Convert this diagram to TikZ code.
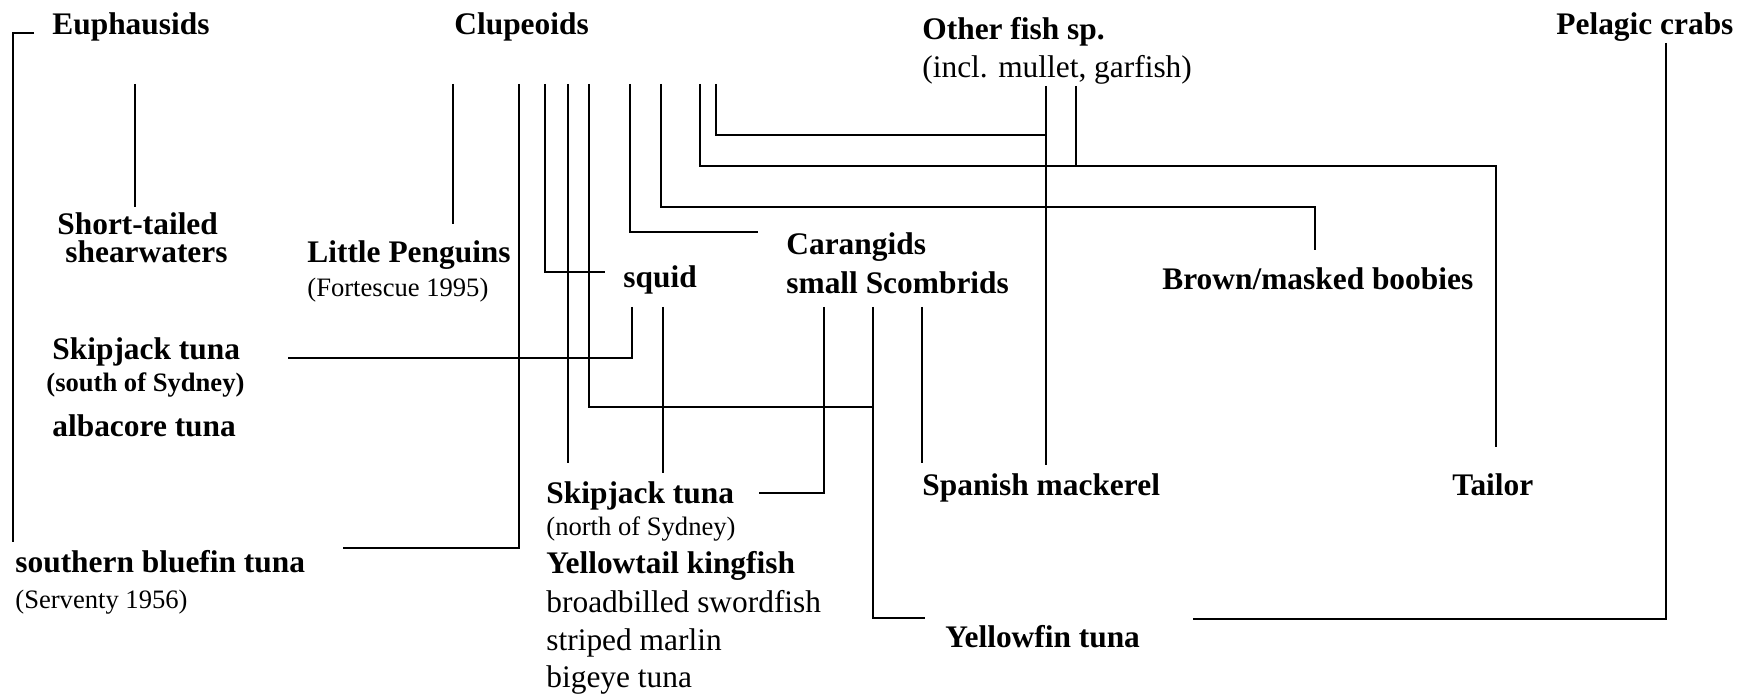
\documentclass[tikz,border=0pt]{standalone}
\usepackage{fontspec}
\setmainfont{Liberation Serif}
\usepackage{tikz}

\begin{document}
\begin{tikzpicture}[
          x=0.5pt, y=-0.5pt,
          sp/.style={anchor=base west, inner sep=0pt,
                     font=\bfseries\fontsize{15.7}{18}\selectfont},
          spr/.style={anchor=base west, inner sep=0pt,
                      font=\fontsize{15.7}{18}\selectfont},
          src/.style={anchor=base west, inner sep=0pt,
                      font=\fontsize{13.3}{16}\selectfont},
          srcb/.style={anchor=base west, inner sep=0pt,
                       font=\bfseries\fontsize{13.3}{16}\selectfont},
          link/.style={line width=0.9pt}
        ]
          \useasboundingbox (0,0) rectangle (1746,695);
          \node[sp] (eup) at (52,35) {Euphausids};
          \node[sp] (clu) at (454,35) {Clupeoids};
          \node[sp] (oth) at (922,40) {Other fish sp.};
          \node[spr] (oth2) at (922,78) {(incl. mullet, garfish)};
          \node[sp] (pel) at (1556,35) {Pelagic crabs};
          \node[sp] (stw) at (57,235) {Short-tailed};
          \node[sp] (stw2) at (65,263) {shearwaters};
          \node[sp] (lpg) at (307,263) {Little Penguins};
          \node[src] (lpg2) at (307,297) {(Fortescue 1995)};
          \node[sp] (sqd) at (623,288) {squid};
          \node[sp] (car) at (786,255) {Carangids};
          \node[sp] (car2) at (786,293) {small Scombrids};
          \node[sp] (boo) at (1162,290) {Brown/masked boobies};
          \node[sp] (sks) at (52,359) {Skipjack tuna};
          \node[srcb] (sks2) at (46,392) {(south of Sydney)};
          \node[sp] (alb) at (52,437) {albacore tuna};
          \node[sp] (spm) at (922,495) {Spanish mackerel};
          \node[sp] (tai) at (1452,495) {Tailor};
          \node[sp] (skn) at (546,503) {Skipjack tuna};
          \node[src] (skn2) at (546,535) {(north of Sydney)};
          \node[sp] (ytk) at (546,573) {Yellowtail kingfish};
          \node[spr] (bbs) at (546,612) {broadbilled swordfish};
          \node[spr] (stm) at (546,650) {striped marlin};
          \node[spr] (bet) at (546,687) {bigeye tuna};
          \node[sp] (sbt) at (15,572) {southern bluefin tuna};
          \node[src] (sbt2) at (15,608) {(Serventy 1956)};
          \node[sp] (yft) at (945,647) {Yellowfin tuna};

          \coordinate (eup-sbt) at (34,33);   \coordinate (sbt-eup) at (13,542);
          \coordinate (eup-stw) at (135,84);  \coordinate (stw-eup) at (135,207);
          \coordinate (clu-lpg) at (453,84);  \coordinate (lpg-clu) at (453,224);
          \coordinate (clu-sbt) at (519,84);  \coordinate (sbt-clu) at (343,548);
          \coordinate (clu-sqd) at (545,84);  \coordinate (sqd-clu) at (605,272);
          \coordinate (clu-skn) at (568,84);  \coordinate (skn-clu) at (568,463);
          \coordinate (clu-yft) at (589,84);  \coordinate (yft-clu) at (873,407);
          \coordinate (clu-car) at (630,84);  \coordinate (car-clu) at (758,232);
          \coordinate (clu-boo) at (661,84);  \coordinate (boo-clu) at (1315,250);
          \coordinate (clu-tai) at (700,84);  \coordinate (tai-clu) at (1496,447);
          \coordinate (clu-spm) at (716,84);  \coordinate (spm-clu) at (1046,135);
          \coordinate (oth-spm) at (1046,86); \coordinate (spm-oth) at (1046,465);
          \coordinate (oth-tai) at (1076,86); \coordinate (tai-oth) at (1076,166);
          \coordinate (pel-yft) at (1666,43); \coordinate (yft-pel) at (1193,619);
          \coordinate (sqd-sks) at (632,307); \coordinate (sks-sqd) at (288,358);
          \coordinate (sqd-skn) at (663,307); \coordinate (skn-sqd) at (663,473);
          \coordinate (car-skn) at (824,307); \coordinate (skn-car) at (759,493);
          \coordinate (car-yft) at (873,307); \coordinate (yft-car) at (925,618);
          \coordinate (car-spm) at (922,307); \coordinate (spm-car) at (922,463);

          \draw[link] (eup-sbt) -| (sbt-eup);
          \draw[link] (eup-stw) -- (stw-eup);
          \draw[link] (clu-lpg) -- (lpg-clu);
          \draw[link] (clu-sbt) |- (sbt-clu);
          \draw[link] (clu-sqd) |- (sqd-clu);
          \draw[link] (clu-skn) -- (skn-clu);
          \draw[link] (clu-yft) |- (yft-clu);
          \draw[link] (clu-car) |- (car-clu);
          \draw[link] (clu-boo) -- ++(0,123) -| (boo-clu);
          \draw[link] (clu-tai) -- ++(0,82) -| (tai-clu);
          \draw[link] (clu-spm) |- (spm-clu);
          \draw[link] (oth-spm) -- (spm-oth);
          \draw[link] (oth-tai) -- (tai-oth);
          \draw[link, line width=1.3pt] (pel-yft) |- (yft-pel);
          \draw[link] (sqd-sks) |- (sks-sqd);
          \draw[link] (sqd-skn) -- (skn-sqd);
          \draw[link] (car-skn) |- (skn-car);
          \draw[link] (car-yft) |- (yft-car);
          \draw[link] (car-spm) -- (spm-car);
        \end{tikzpicture}
\end{document}
